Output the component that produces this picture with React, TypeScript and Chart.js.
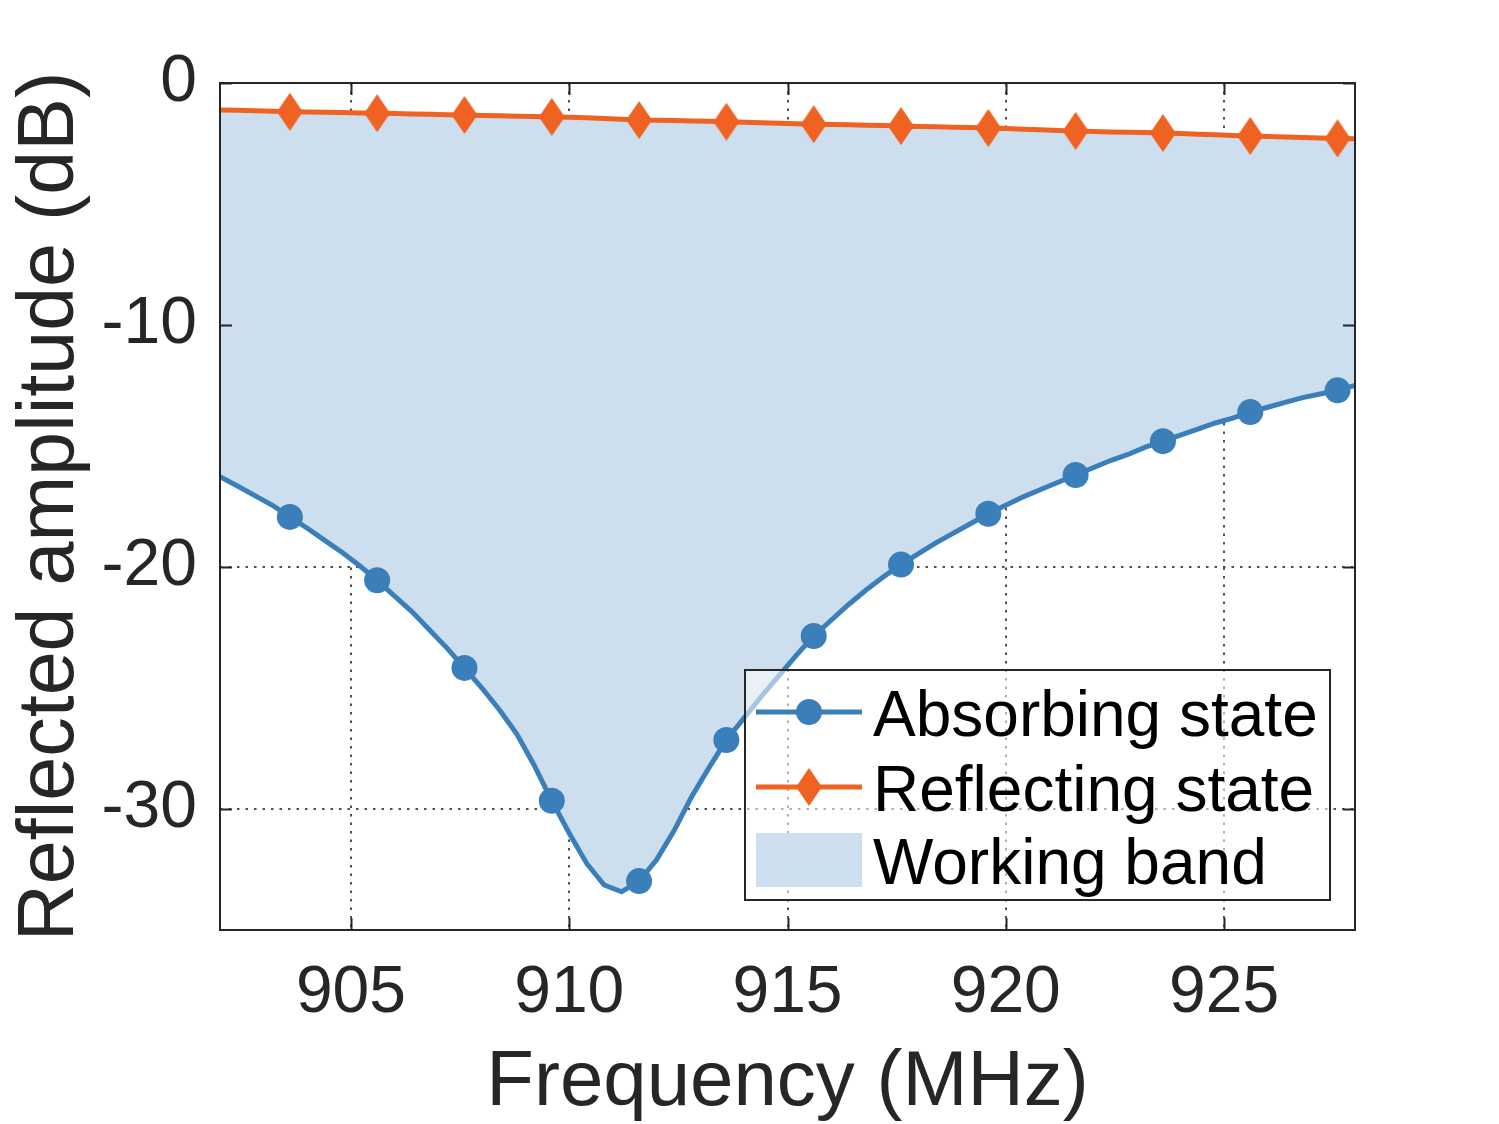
import React, { useEffect, useRef } from 'react';
import { Chart, registerables } from 'chart.js';

Chart.register(...registerables);

// ---------- data ----------
const frequencies = [
  902.0, 902.4, 902.8, 903.2, 903.6, 904.0, 904.4, 904.8, 905.2, 905.6,
  906.0, 906.4, 906.8, 907.2, 907.6, 908.0, 908.4, 908.8, 909.2, 909.6,
  910.0, 910.4, 910.8, 911.2, 911.6, 912.0, 912.4, 912.8, 913.2, 913.6,
  914.0, 914.4, 914.8, 915.2, 915.6, 916.0, 916.4, 916.8, 917.2, 917.6,
  918.0, 918.4, 918.8, 919.2, 919.6, 920.0, 920.4, 920.8, 921.2, 921.6,
  922.0, 922.4, 922.8, 923.2, 923.6, 924.0, 924.4, 924.8, 925.2, 925.6,
  926.0, 926.4, 926.8, 927.2, 927.6, 928.0,
];

const absorbing = [
  -16.27, -16.65, -17.05, -17.45, -17.93, -18.4, -18.9, -19.4, -19.95, -20.55,
  -21.2, -21.85, -22.6, -23.35, -24.17, -25.0, -25.9, -26.9, -28.2, -29.66,
  -31.0, -32.25, -33.14, -33.42, -32.98, -32.1, -30.9, -29.5, -28.3, -27.15,
  -26.25, -25.35, -24.5, -23.65, -22.85, -22.2, -21.55, -20.95, -20.4, -19.9,
  -19.45, -19.0, -18.6, -18.2, -17.8, -17.45, -17.1, -16.8, -16.5, -16.2,
  -15.9, -15.6, -15.35, -15.05, -14.8, -14.55, -14.3, -14.05, -13.85, -13.6,
  -13.4, -13.2, -13.0, -12.85, -12.7, -12.5,
];

const reflecting = [
  -1.12, -1.13, -1.15, -1.17, -1.19, -1.2, -1.21, -1.22, -1.24, -1.25,
  -1.26, -1.28, -1.29, -1.31, -1.32, -1.34, -1.35, -1.37, -1.38, -1.4,
  -1.42, -1.44, -1.47, -1.5, -1.53, -1.54, -1.55, -1.57, -1.58, -1.6,
  -1.62, -1.64, -1.66, -1.68, -1.7, -1.72, -1.73, -1.75, -1.76, -1.78,
  -1.8, -1.81, -1.83, -1.84, -1.86, -1.88, -1.91, -1.93, -1.96, -1.98,
  -2.0, -2.02, -2.03, -2.05, -2.07, -2.09, -2.12, -2.14, -2.17, -2.19,
  -2.21, -2.23, -2.25, -2.27, -2.29, -2.3,
];

const markerIndices = [4, 9, 14, 19, 24, 29, 34, 39, 44, 49, 54, 59, 64];
const xTicks = [905, 910, 915, 920, 925];
const yTicks = [-30, -20, -10, 0];
const legendLabels = ['Absorbing state', 'Reflecting state', 'Working band'];

// ---------- styles ----------
const BLUE = '#3a7fba';
const ORANGE = '#ef6222';
const BAND = '#cddfee';
const AXIS = '#262626';
const FONT = '"Liberation Sans", Arial, Helvetica, sans-serif';

function makeDiamond(w: number, h: number, color: string) {
  const c = document.createElement('canvas');
  c.width = w;
  c.height = h;
  const g = c.getContext('2d')!;
  g.fillStyle = color;
  g.beginPath();
  g.moveTo(w / 2, 0);
  g.lineTo(w, h / 2);
  g.lineTo(w / 2, h);
  g.lineTo(0, h / 2);
  g.closePath();
  g.fill();
  return c;
}

export default function App() {
  const ref = useRef<HTMLCanvasElement | null>(null);

  useEffect(() => {
    if (!ref.current) return;
    const diamond = makeDiamond(26, 38, ORANGE);

    const framePlugin = {
      id: 'frameAndLegend',
      afterDraw(chart: any) {
        const { ctx, chartArea } = chart;
        const xs = chart.scales.x;
        const ys = chart.scales.y;
        const { left, right, top, bottom } = chartArea;
        ctx.save();
        // inner tick marks
        ctx.strokeStyle = AXIS;
        ctx.lineWidth = 2;
        const tl = 12;
        ctx.beginPath();
        xTicks.forEach((v) => {
          const px = Math.round(xs.getPixelForValue(v)) + 0.5;
          ctx.moveTo(px, bottom);
          ctx.lineTo(px, bottom - tl);
          ctx.moveTo(px, top);
          ctx.lineTo(px, top + tl);
        });
        yTicks.forEach((v) => {
          const py = Math.round(ys.getPixelForValue(v)) + 0.5;
          ctx.moveTo(left, py);
          ctx.lineTo(left + tl, py);
          ctx.moveTo(right, py);
          ctx.lineTo(right - tl, py);
        });
        ctx.stroke();
        // box
        ctx.strokeRect(left, top, right - left, bottom - top);

        // legend
        const w = 585;
        const h = 230;
        const x0 = right - 25 - w;
        const y0 = bottom - 30 - h;
        ctx.fillStyle = 'rgba(255,255,255,0.55)';
        ctx.fillRect(x0, y0, w, h);
        ctx.strokeStyle = AXIS;
        ctx.lineWidth = 2;
        ctx.strokeRect(x0, y0, w, h);

        const rows = [42, 117, 190];
        const sx0 = x0 + 11;
        const sx1 = x0 + 117;
        const mx = (sx0 + sx1) / 2;
        // row 1: absorbing
        ctx.strokeStyle = BLUE;
        ctx.lineWidth = 5;
        ctx.beginPath();
        ctx.moveTo(sx0, y0 + rows[0]);
        ctx.lineTo(sx1, y0 + rows[0]);
        ctx.stroke();
        ctx.fillStyle = BLUE;
        ctx.beginPath();
        ctx.arc(mx, y0 + rows[0], 13, 0, Math.PI * 2);
        ctx.fill();
        // row 2: reflecting
        ctx.strokeStyle = ORANGE;
        ctx.beginPath();
        ctx.moveTo(sx0, y0 + rows[1]);
        ctx.lineTo(sx1, y0 + rows[1]);
        ctx.stroke();
        ctx.drawImage(diamond, mx - diamond.width / 2, y0 + rows[1] - diamond.height / 2);
        // row 3: band
        ctx.fillStyle = BAND;
        ctx.fillRect(sx0, y0 + rows[2] - 27, sx1 - sx0, 54);

        ctx.fillStyle = '#000000';
        ctx.font = `64px ${FONT}`;
        ctx.textAlign = 'left';
        ctx.textBaseline = 'alphabetic';
        legendLabels.forEach((t, i) => {
          ctx.fillText(t, x0 + 128, y0 + rows[i] + 24);
        });
        ctx.restore();
      },
    };

    const radii = frequencies.map((_, i) => (markerIndices.includes(i) ? 13 : 0));
    const radiiR = frequencies.map((_, i) => (markerIndices.includes(i) ? 14 : 0));

    const chart = new Chart(ref.current, {
      type: 'line',
      data: {
        datasets: [
          {
            label: 'Absorbing state',
            data: frequencies.map((f, i) => ({ x: f, y: absorbing[i] })),
            borderColor: BLUE,
            backgroundColor: BAND,
            borderWidth: 5,
            pointRadius: radii,
            pointHoverRadius: radii,
            pointBackgroundColor: BLUE,
            pointBorderWidth: 0,
            fill: '+1',
            tension: 0,
          },
          {
            label: 'Reflecting state',
            data: frequencies.map((f, i) => ({ x: f, y: reflecting[i] })),
            borderColor: ORANGE,
            backgroundColor: ORANGE,
            borderWidth: 5,
            pointRadius: radiiR,
            pointHoverRadius: radiiR,
            pointStyle: diamond as any,
            pointBorderWidth: 0,
            fill: false,
            tension: 0,
          },
        ],
      },
      options: {
        animation: false,
        responsive: false,
        events: [],
        layout: { padding: { left: 0, top: 83, right: 144, bottom: 0 } },
        plugins: {
          legend: { display: false },
          tooltip: { enabled: false },
          filler: { drawTime: 'beforeDatasetsDraw' } as any,
        },
        scales: {
          x: {
            type: 'linear',
            min: 902,
            max: 928,
            z: 1,
            afterFit: (s: any) => {
              s.height = 194;
            },
            afterBuildTicks: (s: any) => {
              s.ticks = xTicks.map((v) => ({ value: v }));
            },
            grid: {
              color: 'rgba(50,50,50,0.85)',
              lineWidth: 2,
              drawTicks: false,
            },
            border: { display: false, dash: [2.5, 6] } as any,
            ticks: {
              color: AXIS,
              font: { family: FONT, size: 66 },
              padding: 24,
              maxRotation: 0,
              autoSkip: false,
              callback: (v: any) => String(v),
            },
            title: {
              display: true,
              text: 'Frequency (MHz)',
              color: AXIS,
              font: { family: FONT, size: 78, lineHeight: 1.05 },
              padding: { top: 0, bottom: 0 },
            },
          },
          y: {
            type: 'linear',
            min: -35,
            max: 0,
            z: 1,
            afterFit: (s: any) => {
              s.width = 220;
            },
            afterBuildTicks: (s: any) => {
              s.ticks = yTicks.map((v) => ({ value: v }));
            },
            grid: {
              color: 'rgba(50,50,50,0.85)',
              lineWidth: 2,
              drawTicks: false,
            },
            border: { display: false, dash: [2.5, 6] } as any,
            ticks: {
              color: AXIS,
              font: { family: FONT, size: 66 },
              padding: 23,
              autoSkip: false,
              callback: (v: any) => String(v),
            },
            title: {
              display: true,
              text: 'Reflected amplitude (dB)',
              color: AXIS,
              font: { family: FONT, size: 79 },
              padding: { top: 4, bottom: 0 },
            },
          },
        },
      },
      plugins: [framePlugin],
    });

    return () => {
      chart.destroy();
    };
  }, []);

  return (
    <div style={{ position: 'absolute', left: 0, top: 0, width: 1499, height: 1124, background: '#ffffff' }}>
      <canvas ref={ref} width={1499} height={1124} style={{ display: 'block' }} />
    </div>
  );
}
